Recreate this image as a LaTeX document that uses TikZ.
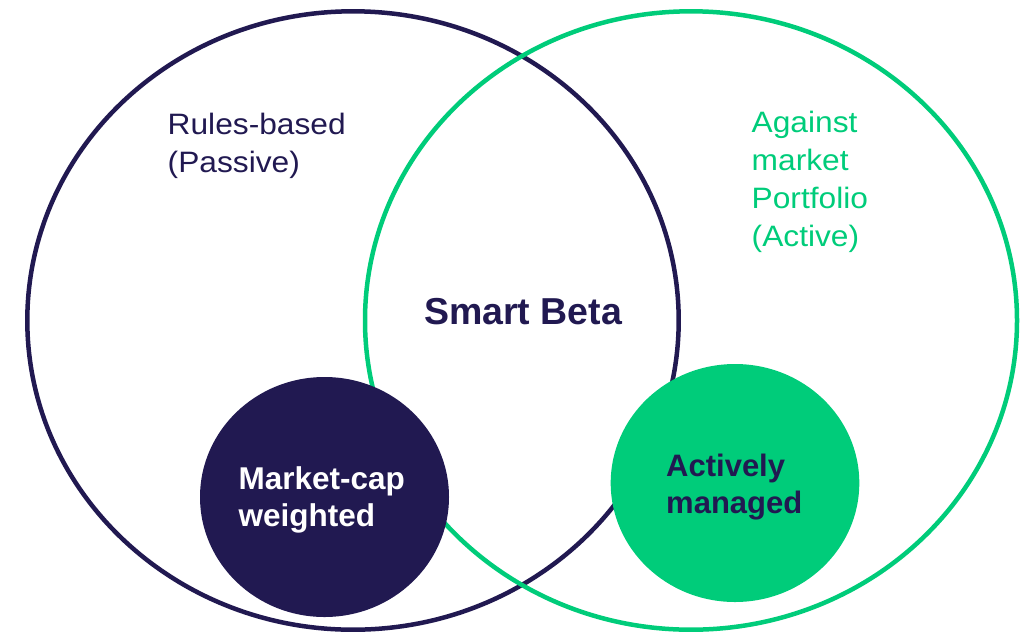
\documentclass[tikz,border=0pt]{standalone}
\usepackage{fontspec}
\setmainfont{Liberation Sans}
\newfontfamily\widefont[FakeStretch=1.075]{Liberation Sans}
\definecolor{navy}{RGB}{33,25,81}
\definecolor{mint}{RGB}{0,204,122}
\begin{document}
\begin{tikzpicture}[x=1pt,y=-1pt,
  ring/.style={line width=4.5pt},
  lbl/.style={inner sep=0pt,anchor=base west,align=left},
]
\useasboundingbox (0,0) rectangle (1025,633);
% big sets
\draw[ring,navy] (353,320.5) ellipse [x radius=325.7, y radius=309.2];
\draw[ring,mint] (691,320.5) ellipse [x radius=326, y radius=309.2];
% small discs
\fill[navy] (324.5,497) ellipse [x radius=124.5, y radius=120];
\fill[mint] (735,483) ellipse [x radius=124.3, y radius=119];
% labels (anchor = baseline of the last line)
\node[lbl,text=navy,font=\widefont\fontsize{29.5}{38.4}\selectfont] (rules) at (167.5,172.7) {Rules-based\\(Passive)};
\node[lbl,text=mint,font=\widefont\fontsize{29.5}{38.2}\selectfont] (against) at (751.5,246.9) {Against\\market\\Portfolio\\(Active)};
\node[lbl,text=navy,font=\bfseries\fontsize{37.5}{44}\selectfont] (smart) at (424,324) {Smart Beta};
\node[lbl,text=white,font=\bfseries\fontsize{31.5}{37.4}\selectfont] (mcap) at (238.5,526.7) {Market-cap\\weighted};
\node[lbl,text=navy,font=\bfseries\fontsize{31}{37.3}\selectfont] (active) at (666,513.3) {Actively\\managed};
\end{tikzpicture}
\end{document}
